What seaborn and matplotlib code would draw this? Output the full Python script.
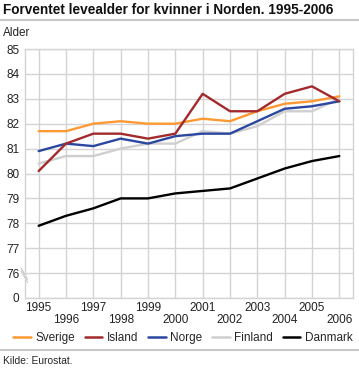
#!/usr/bin/env python3
"""Forventet levealder for kvinner i Norden, 1995-2006 (line chart)."""

import pandas as pd
import matplotlib
matplotlib.use("Agg")
import matplotlib.pyplot as plt
from matplotlib.lines import Line2D
import seaborn as sns

# === Data ===
years = list(range(1995, 2007))
sverige = [81.7, 81.7, 82.0, 82.1, 82.0, 82.0, 82.2, 82.1, 82.5, 82.8, 82.9, 83.1]
island = [80.1, 81.2, 81.6, 81.6, 81.4, 81.6, 83.2, 82.5, 82.5, 83.2, 83.5, 82.9]
norge = [80.9, 81.2, 81.1, 81.4, 81.2, 81.5, 81.6, 81.6, 82.1, 82.6, 82.7, 82.9]
finland = [80.4, 80.7, 80.7, 81.0, 81.2, 81.2, 81.7, 81.6, 81.9, 82.5, 82.5, 83.0]
danmark = [77.9, 78.3, 78.6, 79.0, 79.0, 79.2, 79.3, 79.4, 79.8, 80.2, 80.5, 80.7]
countries = ["Sverige", "Island", "Norge", "Finland", "Danmark"]
y_ticks = [75, 76, 77, 78, 79, 80, 81, 82, 83, 84, 85]
y_labels = ["0", "76", "77", "78", "79", "80", "81", "82", "83", "84", "85"]

palette = {
    "Sverige": "#ff9933",
    "Island": "#a32a2c",
    "Norge": "#2b47a0",
    "Finland": "#cfcfcf",
    "Danmark": "#000000",
}

# draw order: gray first so it sits beneath the others
draw_order = ["Finland", "Danmark", "Sverige", "Norge", "Island"]

rows = []
for name, vals in zip(countries, [sverige, island, norge, finland, danmark]):
    for yr, v in zip(years, vals):
        rows.append({"Year": yr, "Value": v, "Land": name})
df = pd.DataFrame(rows)

# === Plot ===
sns.set_style("whitegrid", {"grid.color": "#d4d4d4"})
plt.rcParams["font.family"] = ["Liberation Sans", "DejaVu Sans"]

fig = plt.figure(figsize=(3.59, 3.68), dpi=100)
ax = fig.add_axes([25 / 359, 1 - 298 / 368, 328 / 359, 249 / 368])

for name in draw_order:
    sub = df[df["Land"] == name]
    sns.lineplot(data=sub, x="Year", y="Value", color=palette[name],
                 linewidth=1.7, ax=ax, legend=False)

ax.set_xlim(1994.5, 2006.5)
ax.set_ylim(75, 85)
ax.set_xticks(years)
ax.set_xticklabels([str(y) if i % 2 == 0 else "\n" + str(y)
                    for i, y in enumerate(years)], fontsize=8.5, linespacing=0.95)
ax.set_yticks(y_ticks)
ax.set_yticklabels(y_labels, fontsize=8.5)
ax.tick_params(axis="x", length=0, pad=3, colors="#222222")
ax.tick_params(axis="y", length=0, pad=4, colors="#222222")
ax.set_xlabel("")
ax.set_ylabel("")
ax.grid(True, color="#d4d4d4", linewidth=1)
for side in ["left", "right", "top", "bottom"]:
    ax.spines[side].set_color("#d4d4d4")
    ax.spines[side].set_linewidth(1)

# axis break marks
for dy in (0.0, 0.012):
    ax.plot([-0.012, 0.008], [0.12 - dy, 0.075 - dy], transform=ax.transAxes,
            color="#c4c4c4", linewidth=0.8, clip_on=False)

# title, unit and source
fig.text(3 / 359, 1 - 10 / 368, "Forventet levealder for kvinner i Norden. 1995-2006",
         fontsize=9.8, fontweight="bold", va="center", ha="left", color="#111111")
fig.add_artist(Line2D([0, 1], [1 - 19.5 / 368] * 2, color="#c8c8c8", linewidth=1.5))
fig.text(3 / 359, 1 - 33 / 368, "Alder", fontsize=8.5, va="center", ha="left")

handles = [Line2D([0], [0], color=palette[c], linewidth=1.8) for c in countries]
fig.legend(handles, countries, loc="center", ncol=5, frameon=False,
           bbox_to_anchor=(183 / 359, 1 - 338 / 368), fontsize=8.5,
           handlelength=1.5, handletextpad=0.4, columnspacing=0.8)
fig.add_artist(Line2D([0, 1], [1 - 349.5 / 368] * 2, color="#c8c8c8", linewidth=1.5))
fig.text(3 / 359, 1 - 361 / 368, "Kilde: Eurostat.", fontsize=7.4, va="center", ha="left")

plt.savefig("out.png", dpi=100)
plt.close()
